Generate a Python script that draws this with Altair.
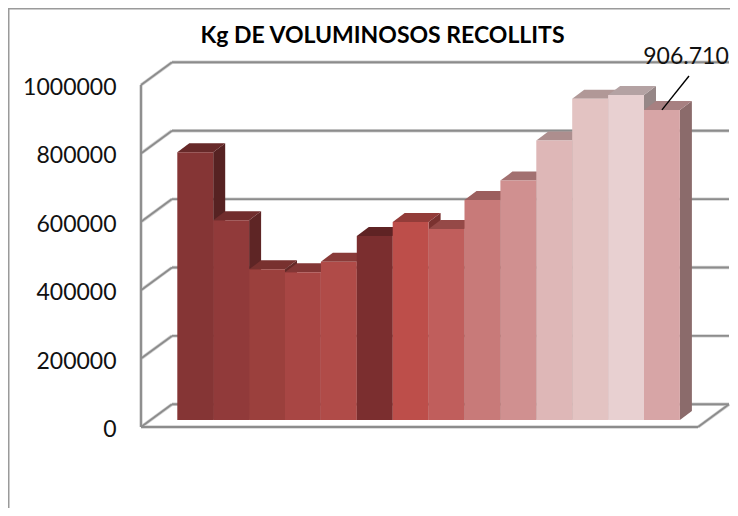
import altair as alt
import pandas as pd

TITLE = "Kg DE VOLUMINOSOS RECOLLITS"
TICKS = [0, 200000, 400000, 600000, 800000, 1000000]
VALUES = [782700, 584000, 440600, 432000, 463000, 538000, 579000,
          558500, 643000, 700000, 817000, 939000, 950000, 906710]
FRONT = ["#853535", "#913a3a", "#9b403d", "#a84644", "#b04b48", "#7b2e2f", "#bd4e4a",
         "#c05e5c", "#c87a79", "#d09090", "#deb7b7", "#e3c3c2", "#e8d0d1", "#d7a5a6"]
CALLOUT = "906.710"

# scale calibration (page pixels)
PX_PER_BAR = 35.9
PX_PER_UNIT = 0.000342
BAR_X0, BAR_Y0 = 177.3, 420.0
W, H = 722, 500


def ix(px):
    return (px - BAR_X0) / PX_PER_BAR


def iv(py):
    return (BAR_Y0 - py) / PX_PER_UNIT


def shade(hex_color, k):
    r, g, b = (int(hex_color[j:j + 2], 16) for j in (1, 3, 5))
    return f"#{int(r * k):02x}{int(g * k):02x}{int(b * k):02x}"


xs = alt.Scale(domain=[ix(8), ix(8 + W)], range=[0, W], zero=False, nice=False)
ys = alt.Scale(domain=[iv(8 + H), iv(8)], range=[H, 0], zero=False, nice=False)
X = alt.X("x:Q", scale=xs, axis=None)
Y = alt.Y("y:Q", scale=ys, axis=None)

bar_dx, bar_dv = 12 / PX_PER_BAR, 9 / PX_PER_UNIT
wall_dx, wall_dv = 31 / PX_PER_BAR, 22.7 / PX_PER_UNIT
front_shift = iv(427) - iv(420)
left, right = ix(141), ix(698)

# box lines
seg = []
for t in TICKS:
    yf = t + front_shift
    seg.append(dict(x=left, x2=left + wall_dx, y=yf, y2=yf + wall_dv))
    seg.append(dict(x=left + wall_dx, x2=right + wall_dx, y=yf + wall_dv, y2=yf + wall_dv))
seg.append(dict(x=left, x2=left, y=front_shift, y2=TICKS[-1] + front_shift))
seg.append(dict(x=left, x2=right, y=front_shift, y2=front_shift))
seg.append(dict(x=right, x2=right + wall_dx, y=front_shift, y2=front_shift + wall_dv))
seg = pd.DataFrame(seg)

halo = alt.Chart(seg).mark_rule(color="#d2d2d2", strokeWidth=3.4).encode(X, Y, x2="x2:Q", y2="y2:Q")
lines = alt.Chart(seg).mark_rule(color="#8c8c8c", strokeWidth=1.9).encode(X, Y, x2="x2:Q", y2="y2:Q")

frame = pd.DataFrame([
    dict(x=ix(8), x2=ix(8 + W), y=iv(8), y2=iv(8)),
    dict(x=ix(8), x2=ix(8), y=iv(8), y2=iv(8 + H)),
])
frame_lines = alt.Chart(frame).mark_rule(color="#9a9a9a", strokeWidth=3).encode(X, Y, x2="x2:Q", y2="y2:Q")

# 3D bar faces, painted bar by bar from left to right
side_layers, top_layers, front_layers = [], [], []
for i, (v, c) in enumerate(zip(VALUES, FRONT)):
    side = pd.DataFrame([dict(x=i + 1, y=v, y2=0),
                         dict(x=i + 1 + bar_dx, y=v + bar_dv, y2=bar_dv)])
    top = pd.DataFrame([dict(y=v, x=i, x2=i + 1),
                        dict(y=v + bar_dv, x=i + bar_dx, x2=i + 1 + bar_dx)])
    front = pd.DataFrame([dict(x=i, x2=i + 1, y=v, y2=0)])
    side_layers.append(alt.Chart(side).mark_area(orient="vertical", color=shade(c, 0.65), opacity=1).encode(
        X, Y, y2="y2:Q"))
    top_layers.append(alt.Chart(top).mark_area(orient="horizontal", color=shade(c, 0.78), opacity=1).encode(
        X, Y, x2="x2:Q"))
    front_layers.append(alt.Chart(front).mark_rect(color=c, opacity=1).encode(X, Y, x2="x2:Q", y2="y2:Q"))

# tick labels
tick_df = pd.DataFrame(dict(x=[ix(116.5)] * len(TICKS), y=[t + front_shift for t in TICKS],
                            t=[str(t) for t in TICKS]))
tick_text = alt.Chart(tick_df).mark_text(font="Lato", fontSize=23, align="right", baseline="middle",
                                         dy=3, color="#111111").encode(X, Y, text="t:N")

title_df = pd.DataFrame(dict(x=[ix(382.5)], y=[iv(43)], t=[TITLE]))
title_text = alt.Chart(title_df).mark_text(font="Lato", fontSize=23, fontWeight="bold", align="center",
                                           baseline="alphabetic", color="#000000").encode(X, Y, text="t:N")

# callout for last bar
leader_df = pd.DataFrame(dict(x=[13.5], x2=[ix(689)], y=[VALUES[-1]], y2=[iv(76)]))
leader = alt.Chart(leader_df).mark_rule(color="#000000", strokeWidth=1.4).encode(X, Y, x2="x2:Q", y2="y2:Q")
call_df = pd.DataFrame(dict(x=[ix(686)], y=[iv(64)], t=[CALLOUT]))
call_text = alt.Chart(call_df).mark_text(font="Lato", fontSize=23, align="center", baseline="alphabetic",
                                         color="#111111").encode(X, Y, text="t:N")

chart = alt.layer(
    frame_lines, halo, lines, *side_layers, *top_layers, *front_layers,
    leader, tick_text, title_text, call_text,
).properties(width=W, height=H, padding=0, autosize=alt.AutoSizeParams(type="none"),
             background="white").configure_view(stroke=None)

chart.save("out.html", embed_options={"renderer": "svg", "actions": False})
